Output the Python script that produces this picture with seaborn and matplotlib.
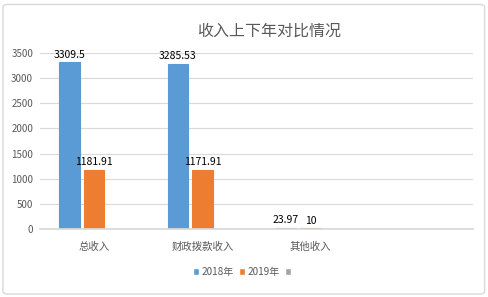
import pandas as pd
import matplotlib.pyplot as plt
import seaborn as sns
from matplotlib.patches import FancyBboxPatch

# dados
categorias = ["总收入", "财政拨款收入", "其他收入"]
valores_2018 = [3309.5, 3285.53, 23.97]
valores_2019 = [1181.91, 1171.91, 10]
valores_3 = [0, 0, 0]
series = ["2018年", "2019年", " "]
rotulos_y = [0, 500, 1000, 1500, 2000, 2500, 3000, 3500]

linhas = []
for s, vals in zip(series, [valores_2018, valores_2019, valores_3]):
    for c, v in zip(categorias, vals):
        linhas.append({"categoria": c, "serie": s, "valor": v})
df = pd.DataFrame(linhas)

sns.set_theme(style="white")
plt.rcParams['font.family'] = ['Noto Sans CJK SC', 'DejaVu Sans']

fig = plt.figure(figsize=(4.89, 2.97), dpi=100)
ax = fig.add_axes([0.082, 0.229, 0.885, 0.593])

cores = {"2018年": "#5B9BD5", "2019年": "#ED7D31", " ": "#A5A5A5"}
sns.barplot(data=df, x="categoria", y="valor", hue="serie",
            order=categorias + [""], hue_order=series, palette=cores,
            width=0.68, gap=0.17, saturation=1, ax=ax, legend=True)

# contorno fino para as barras pequenas aparecerem
for cont in ax.containers[:2]:
    for barra in cont:
        barra.set_edgecolor(barra.get_facecolor())
        barra.set_linewidth(0.8)
    ax.bar_label(cont, labels=[f"{v:g}" if v != 0 else "" for v in cont.datavalues],
                 fontsize=7.5, padding=2, color="#000000")

ax.set_ylim(0, 3500)
ax.set_yticks(rotulos_y)
ax.set_yticklabels([str(v) for v in rotulos_y], fontsize=7, color="#595959")
ax.tick_params(axis="x", labelsize=7.5, colors="#595959", length=0, pad=9)
ax.tick_params(axis="y", length=0, pad=5)
ax.yaxis.grid(True, color="#d9d9d9", linewidth=0.8)
ax.set_axisbelow(True)
for lado in ["top", "right", "left"]:
    ax.spines[lado].set_visible(False)
ax.spines["bottom"].set_color("#d9d9d9")
ax.set_xlabel("")
ax.set_ylabel("")

fig.suptitle("收入上下年对比情况", x=0.55, y=0.925, fontsize=11.5, color="#595959")

handles, labels = ax.get_legend_handles_labels()
ax.legend_.remove()
fig.legend(handles, labels, loc="center", bbox_to_anchor=(0.50, 0.084), ncol=3,
           frameon=False, fontsize=7.2, handlelength=0.6, handleheight=0.6,
           handletextpad=0.3, columnspacing=0.5, labelcolor="#595959")

fig.patches.append(FancyBboxPatch((0.006, 0.01), 0.985, 0.975, boxstyle="round,pad=0,rounding_size=0.01",
                                  transform=fig.transFigure, fill=False,
                                  edgecolor="#d9d9d9", linewidth=1))

fig.savefig("out.png", dpi=100)
